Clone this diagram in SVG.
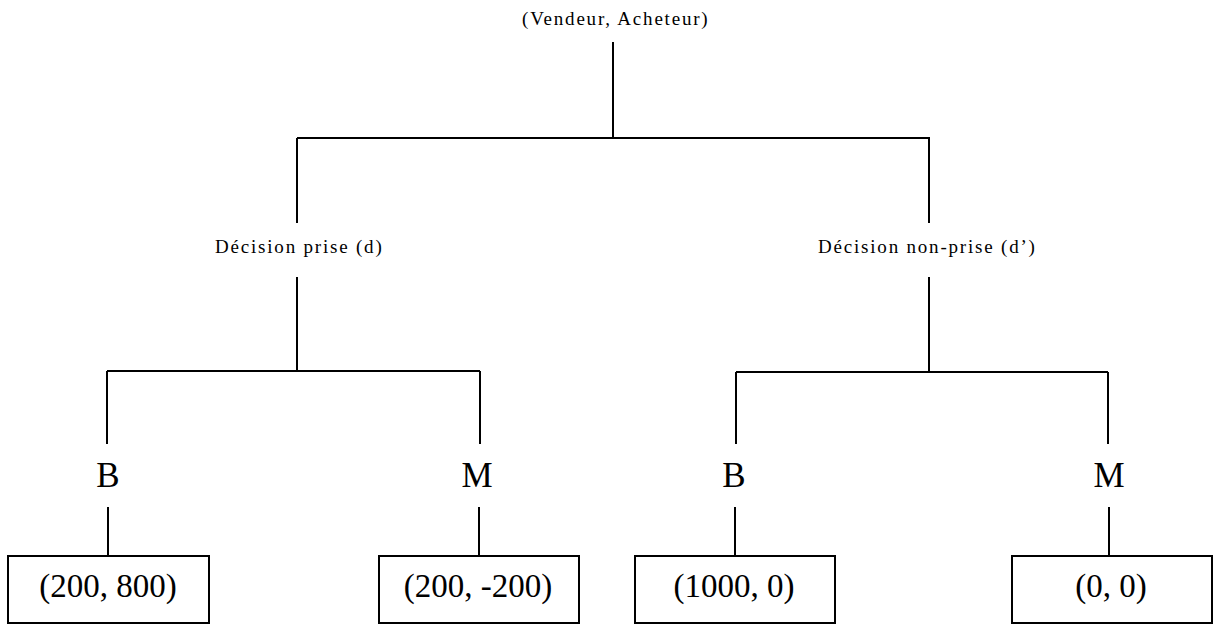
<svg xmlns="http://www.w3.org/2000/svg" width="1219" height="626" viewBox="0 0 1219 626">
  <style>
    .edge { stroke: #000; stroke-width: 2; fill: none; }
    .box { fill: #fff; stroke: #000; stroke-width: 2; }
    .small { font-family: "Liberation Serif", "Times New Roman", serif; font-size: 19px; letter-spacing: 1.8px; fill: #000; }
    .big { font-family: "Liberation Serif", "Times New Roman", serif; font-size: 33px; fill: #000; text-anchor: middle; }
    .choice { font-size: 35px; }
  </style>
  <rect width="1219" height="626" fill="#fff"/>

  <!-- tree connectors -->
  <g id="connectors">
    <path class="edge" d="M613 42 V138 M297 138 H930 M297 138 V223 M929 138 V223"/>
    <path class="edge" d="M297 277 V371 M107 371 H480 M107 371 V444 M480 371 V444"/>
    <path class="edge" d="M929 277 V372 M736 372 H1108 M736 372 V444 M1108 372 V444"/>
    <path class="edge" d="M108 507 V556 M479 507 V556 M735 507 V556 M1109 507 V556"/>
  </g>

  <!-- root -->
  <g id="root">
    <text class="small" x="522" y="25">(Vendeur, Acheteur)</text>
  </g>

  <!-- decision nodes -->
  <g id="decision-prise">
    <text class="small" x="215" y="253">Décision prise (d)</text>
  </g>
  <g id="decision-non-prise">
    <text class="small" x="818" y="253">Décision non-prise (d’)</text>
  </g>

  <!-- choice nodes -->
  <g id="choice-b1"><text class="big choice" x="108" y="487">B</text></g>
  <g id="choice-m1"><text class="big choice" x="477" y="487">M</text></g>
  <g id="choice-b2"><text class="big choice" x="734" y="487">B</text></g>
  <g id="choice-m2"><text class="big choice" x="1109" y="487">M</text></g>

  <!-- payoffs -->
  <g id="payoff-1">
    <rect class="box" x="8" y="556" width="201" height="67"/>
    <text class="big" x="108" y="597">(200, 800)</text>
  </g>
  <g id="payoff-2">
    <rect class="box" x="379" y="556" width="200" height="67"/>
    <text class="big" x="478" y="597">(200, -200)</text>
  </g>
  <g id="payoff-3">
    <rect class="box" x="635" y="556" width="200" height="67"/>
    <text class="big" x="734" y="597">(1000, 0)</text>
  </g>
  <g id="payoff-4">
    <rect class="box" x="1012" y="556" width="200" height="67"/>
    <text class="big" x="1111" y="597">(0, 0)</text>
  </g>
</svg>
